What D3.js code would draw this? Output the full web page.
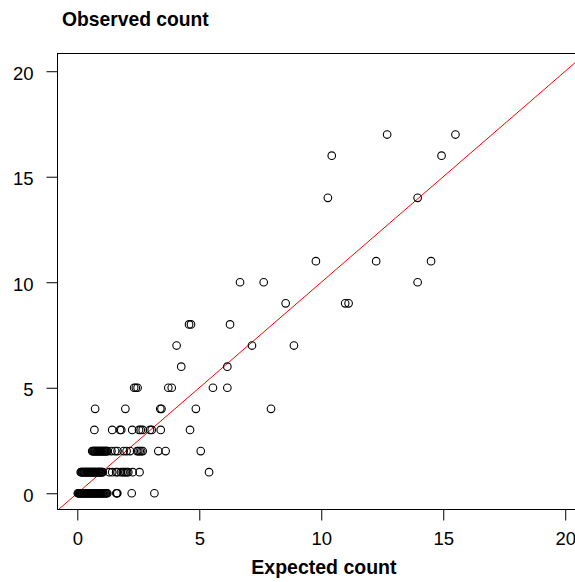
<!DOCTYPE html>
<html>
<head>
<meta charset="utf-8">
<script src="https://cdn.jsdelivr.net/npm/d3@7"></script>
<style>
  html, body { margin: 0; padding: 0; background: #fff; }
  svg { display: block; }
  text { font-family: "Liberation Sans", Arial, sans-serif; fill: #000; }
</style>
</head>
<body>
<div id="chart"></div>
<script>
// Expected counts, grouped by the observed count they belong to
const observedLevels = [0, 1, 2, 3, 4, 5, 6, 7, 8, 9, 10, 11, 14, 16, 17];
const expectedObs0 = [0.02,0.05,0.07,0.1,0.12,0.15,0.17,0.2,0.22,0.25,0.28,0.3,0.33,0.35,0.38,0.4,0.43,0.46,0.48,0.51,0.53,0.56,0.59,0.62,0.64,0.67,0.7,0.72,0.75,0.78,0.8,0.83,0.86,0.88,0.91,0.94,0.97,0.99,1.02,1.05,1.08,1.11,1.14,1.17,1.2,1.23,1.6,1.62,1.64,2.23,3.16];
const expectedObs1 = [0.14,0.17,0.2,0.23,0.26,0.28,0.31,0.34,0.37,0.4,0.42,0.45,0.48,0.51,0.54,0.56,0.59,0.62,0.65,0.68,0.7,0.73,0.76,0.79,0.82,0.85,0.88,0.9,0.93,0.96,0.99,1.02,1.04,1.31,1.43,1.59,1.65,1.79,1.86,1.92,1.98,2.04,2.09,2.27,2.55,5.4];
const expectedObs2 = [0.61,0.64,0.67,0.7,0.73,0.76,0.79,0.82,0.85,0.88,0.91,0.94,0.97,1.0,1.03,1.06,1.09,1.12,1.15,1.18,1.21,1.25,1.4,1.55,1.65,1.9,2.02,2.16,2.45,2.5,2.56,2.62,2.68,3.32,3.62,5.06];
const expectedObs3 = [0.7,1.43,1.75,1.8,2.25,2.53,2.6,2.68,2.98,3.05,3.42,4.62];
const expectedObs4 = [0.73,1.97,3.4,3.45,4.86,7.94];
const expectedObs5 = [2.33,2.4,2.47,3.73,3.87,5.56,6.15];
const expectedObs6 = [4.26,6.15];
const expectedObs7 = [4.07,7.16,8.88];
const expectedObs8 = [4.58,4.66,6.26];
const expectedObs9 = [8.54,10.98,11.12];
const expectedObs10 = [6.67,7.64,13.95];
const expectedObs11 = [9.78,12.25,14.5];
const expectedObs14 = [10.27,13.95];
const expectedObs16 = [10.43,14.93];
const expectedObs17 = [12.7,15.5];
const expectedByLevel = [expectedObs0, expectedObs1, expectedObs2, expectedObs3, expectedObs4,
  expectedObs5, expectedObs6, expectedObs7, expectedObs8, expectedObs9, expectedObs10,
  expectedObs11, expectedObs14, expectedObs16, expectedObs17];

const xTicks = [0, 5, 10, 15, 20];
const yTicks = [0, 5, 10, 15, 20];
const titleText = "Observed count";
const xLabelText = "Expected count";

const points = [];
observedLevels.forEach((obs, i) => {
  expectedByLevel[i].forEach(e => points.push({ expected: e, observed: obs }));
});

const W = 575, H = 582;
const mLeft = 57.5, mRight = 592.3, mTop = 53.5, mBottom = 509.5;

const x = d3.scaleLinear().domain([-0.812, 21.11]).range([mLeft, mRight]);
const y = d3.scaleLinear().domain([-0.77, 20.84]).range([mBottom, mTop]);

const svg = d3.select("#chart").append("svg").attr("width", W).attr("height", H);

svg.append("clipPath").attr("id", "plotclip")
  .append("rect").attr("x", mLeft).attr("y", mTop).attr("width", mRight - mLeft).attr("height", mBottom - mTop);

// Identity line y = x
const lineDomain = [-0.812, 21.11];
svg.append("g").attr("clip-path", "url(#plotclip)")
  .append("line")
  .attr("x1", x(lineDomain[0])).attr("y1", y(lineDomain[0]))
  .attr("x2", x(lineDomain[1])).attr("y2", y(lineDomain[1]))
  .attr("stroke", "#ff0000").attr("stroke-width", 1);

// Points
svg.append("g").selectAll("circle").data(points).join("circle")
  .attr("cx", d => x(d.expected))
  .attr("cy", d => y(d.observed))
  .attr("r", 3.8)
  .attr("fill", "none")
  .attr("stroke", "#000")
  .attr("stroke-width", 1.1);

// Plot box
svg.append("rect")
  .attr("x", mLeft).attr("y", mTop)
  .attr("width", mRight - mLeft).attr("height", mBottom - mTop)
  .attr("fill", "none").attr("stroke", "#000").attr("stroke-width", 1);

// Axes
const xAxis = d3.axisBottom(x).tickValues(xTicks).tickSize(11).tickPadding(11).tickFormat(d3.format("d"));
const gx = svg.append("g").attr("transform", `translate(0,${mBottom})`).call(xAxis);
gx.select(".domain").remove();
gx.selectAll("text").attr("font-size", 18.5).attr("font-family", "Liberation Sans, Arial, sans-serif").attr("fill", "#000");
gx.selectAll("line").attr("stroke", "#000");

const yAxis = d3.axisLeft(y).tickValues(yTicks).tickSize(11).tickPadding(13).tickFormat(d3.format("d"));
const gy = svg.append("g").attr("transform", `translate(${mLeft},0)`).call(yAxis);
gy.select(".domain").remove();
gy.selectAll("text").attr("font-size", 18.5).attr("dy", "0.42em").attr("font-family", "Liberation Sans, Arial, sans-serif").attr("fill", "#000");
gy.selectAll("line").attr("stroke", "#000");

// Titles
svg.append("text").attr("x", 62).attr("y", 26)
  .attr("font-size", 19.3).attr("font-weight", "bold").text(titleText);
svg.append("text").attr("x", (mLeft + mRight) / 2 - 1).attr("y", 574)
  .attr("text-anchor", "middle").attr("font-size", 19.5).attr("font-weight", "bold").text(xLabelText);
</script>
</body>
</html>
